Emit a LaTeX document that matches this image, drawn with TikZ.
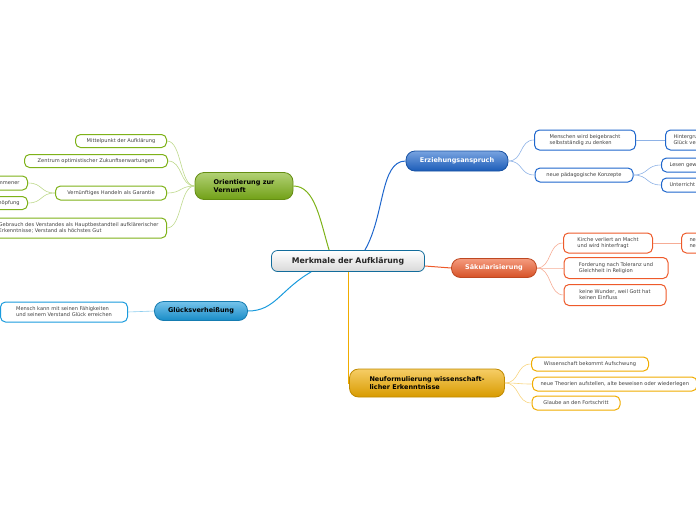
\documentclass[tikz,border=0pt]{standalone}
\usepackage{fontspec}
\setmainfont{DejaVu Sans}
\begin{document}
\begin{tikzpicture}[x=1pt,y=-1pt,
  leaf/.style={draw=#1,line width=1pt,rounded corners=5pt,fill=white,font=\fontsize{5.1}{6}\selectfont,align=left,inner xsep=8pt,inner ysep=3pt,text=black!75},
  main/.style={draw=#1!80!black,line width=0.8pt,rounded corners=9pt,top color=#1!60,bottom color=#1!90!black,font=\bfseries\fontsize{6.5}{7.5}\selectfont,align=left,inner xsep=10pt},
  conn/.style={draw=#1,line width=0.6pt}]
\useasboundingbox (0,0) rectangle (696,520);
\clip (0,0) rectangle (696,520);
\definecolor{cblue}{HTML}{1E66CC}
\definecolor{corange}{HTML}{EE5A2A}
\definecolor{camber}{HTML}{F0AC00}
\definecolor{cgreen}{HTML}{7EB219}
\definecolor{ccyan}{HTML}{1A9BDD}

% root
\node[draw=ccyan!70!black,line width=0.8pt,rounded corners=6pt,top color=white,bottom color=gray!30,font=\bfseries\fontsize{7.8}{9}\selectfont,minimum width=153pt,minimum height=21pt,text=black!85] (root) at (348,261) {Merkmale der Aufklärung};

% main nodes
\node[main=cblue,text=white,minimum width=102pt,minimum height=20pt] (erz) at (457,161) {Erziehungsanspruch};
\node[main=corange,text=white,minimum width=85pt,minimum height=19pt] (sak) at (494,268) {Säkularisierung};
\node[main=camber,text=black,minimum width=155pt,minimum height=28pt] (neu) at (427,383) {Neuformulierung wissenschaft-\\licher Erkenntnisse};
\node[main=cgreen,text=black,minimum width=98pt,minimum height=27pt] (ori) at (244,186) {Orientierung zur\\Vernunft};
\node[main=ccyan,text=black,minimum width=93pt,minimum height=19pt] (glu) at (201,311) {Glücksverheißung};

% root connectors
\draw[conn=cblue,line width=1pt] (root.north east)++(-60,0) .. controls (385,215) and (380,161) .. (erz.west);
\draw[conn=corange,line width=1pt] (root.east) ++(0,5) -- (sak.west);
\draw[conn=camber,line width=1pt] (root.south) -- (348,383) -- (neu.west);
\draw[conn=cgreen,line width=1pt] (root.north west)++(58,0) .. controls (320,220) and (315,186) .. (ori.east);
\draw[conn=ccyan,line width=1pt] (root.south west)++(40,0) .. controls (280,290) and (275,311) .. (glu.east);

% Erziehung leaves
\node[leaf=cblue,minimum width=101pt,minimum height=20pt] (e1) at (585,140) {Menschen wird beigebracht\\selbstständig zu denken};
\node[leaf=cblue,minimum width=98pt,minimum height=14pt] (e2) at (584,175) {neue pädagogische Konzepte};
\node[leaf=cblue,minimum height=20pt,anchor=west] (e11) at (665,140) {Hintergrund:\\Glück verdienen};
\node[leaf=cblue,minimum height=14pt,anchor=west] (e21) at (661,165) {Lesen gewinnt an Bedeutung};
\node[leaf=cblue,minimum height=14pt,anchor=west] (e22) at (661,185) {Unterricht wird reformiert};
\foreach \n in {e1,e2} \draw[conn=cblue!50] (erz.east) .. controls +(15,0) and +(-15,0) .. (\n.west);
\draw[conn=cblue!50] (e1.east) -- (e11.west);
\foreach \n in {e21,e22} \draw[conn=cblue!50] (e2.east) .. controls +(15,0) and +(-15,0) .. (\n.west);

% Säkularisierung leaves
\node[leaf=corange,minimum width=89pt,minimum height=20pt] (s1) at (608,243) {Kirche verliert an Macht\\und wird hinterfragt};
\node[leaf=corange,minimum width=104pt,minimum height=21pt] (s2) at (616,268) {Forderung nach Toleranz und\\Gleichheit in Religion};
\node[leaf=corange,minimum width=102pt,minimum height=21pt] (s3) at (615,295) {keine Wunder, weil Gott hat\\keinen Einfluss};
\node[leaf=corange,minimum height=20pt,anchor=west] (s11) at (681,243) {neue\\neue};
\foreach \n in {s1,s2,s3} \draw[conn=corange!50] (sak.east) .. controls +(15,0) and +(-15,0) .. (\n.west);
\draw[conn=corange!50] (s1.east) -- (s11.west);

% Neuformulierung leaves
\node[leaf=camber,minimum width=117pt,minimum height=14pt] (n1) at (590,364) {Wissenschaft bekommt Aufschwung};
\node[leaf=camber,minimum height=14pt,anchor=west] (n2) at (532,384) {neue Theorien aufstellen, alte beweisen oder wiederlegen};
\node[leaf=camber,minimum width=88pt,minimum height=14pt] (n3) at (576,403) {Glaube an den Fortschritt};
\foreach \n in {n1,n2,n3} \draw[conn=camber!50] (neu.east) .. controls +(15,0) and +(-15,0) .. (\n.west);

% Orientierung leaves
\node[leaf=cgreen,minimum width=91pt,minimum height=13pt] (o1) at (121,141) {Mittelpunkt der Aufklärung};
\node[leaf=cgreen,minimum width=143pt,minimum height=13pt] (o2) at (96,161) {Zentrum optimistischer Zukunftserwartungen};
\node[leaf=cgreen,minimum width=111pt,minimum height=14pt] (o3) at (111,193) {Vernünftiges Handeln als Garantie};
\node[leaf=cgreen,minimum height=20pt,anchor=east] (o4) at (167,228) {Gebrauch des Verstandes als Hauptbestandteil aufklärerischer\\Erkenntnisse; Verstand als höchstes Gut};
\node[leaf=cgreen,minimum height=14pt,anchor=east] (o31) at (28,183) {Mensch als vollkommener};
\node[leaf=cgreen,minimum height=13pt,anchor=east] (o32) at (28,203) {Krone der Schöpfung};
\foreach \n in {o1,o2,o3,o4} \draw[conn=cgreen!50] (ori.west) .. controls +(-15,0) and +(15,0) .. (\n.east);
\foreach \n in {o31,o32} \draw[conn=cgreen!50] (o3.west) .. controls +(-15,0) and +(15,0) .. (\n.east);

% Glück leaf
\node[leaf=ccyan,minimum width=127pt,minimum height=20pt] (g1) at (64,312) {Mensch kann mit seinen Fähigkeiten\\und seinem Verstand Glück erreichen};
\draw[conn=ccyan!50] (glu.west) -- (g1.east);
\end{tikzpicture}
\end{document}
